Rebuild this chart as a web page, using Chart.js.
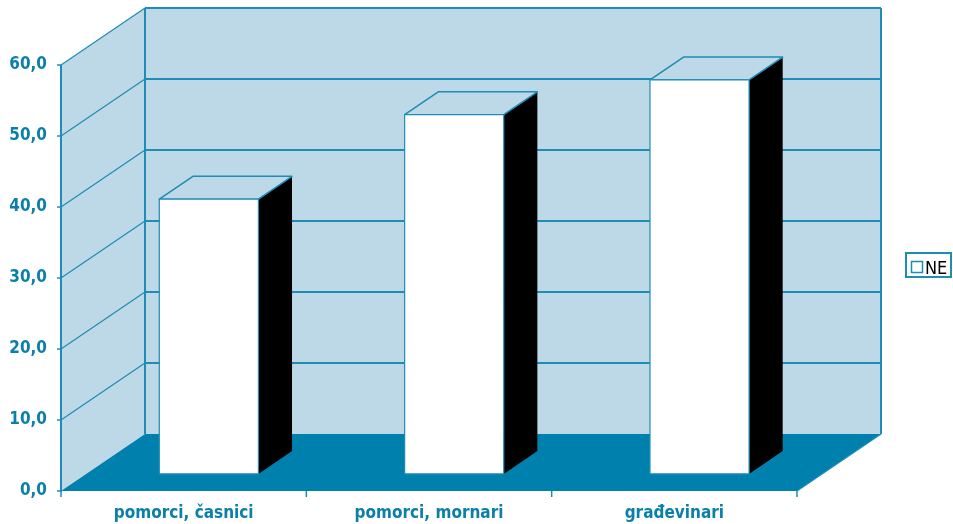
<!DOCTYPE html>
<html>
<head>
<meta charset="utf-8">
<script src="https://cdn.jsdelivr.net/npm/chart.js@4/dist/chart.umd.min.js"></script>
<style>
    html, body { margin: 0; padding: 0; background: #fff; }
    #wrap { width: 953px; height: 524px; }
</style>
</head>
<body>
<div id="wrap"><canvas id="chart" width="953" height="524"></canvas></div>
<script>
// データ
const categories = ['pomorci, časnici', 'pomorci, mornari', 'građevinari'];
const seriesName = 'NE';
const seriesValues = [38.7, 50.6, 55.5];
const yTicks = [0, 10, 20, 30, 40, 50, 60];

// 色
const WALL = '#bdd8e6';
const FLOOR = '#0080ad';
const LINE = '#1f8cb5';
const TEXT = '#0a7faa';
const FONT = "'Liberation Sans Narrow', 'DejaVu Sans Condensed', 'Arial Narrow', sans-serif";

// 奥行き (前面から背面まで)
const DX = 84, DY = -57;
// 棒の前面・背面の位置 (奥行きの割合)
const BAR_FRONT = 0.3, BAR_BACK = 0.7;

function poly(ctx, pts) {
    ctx.beginPath();
    ctx.moveTo(pts[0][0], pts[0][1]);
    for (let i = 1; i < pts.length; i++) ctx.lineTo(pts[i][0], pts[i][1]);
    ctx.closePath();
}

function line(ctx, x1, y1, x2, y2) {
    ctx.beginPath();
    ctx.moveTo(x1, y1);
    ctx.lineTo(x2, y2);
    ctx.stroke();
}

const box3d = {
    id: 'box3d',
    beforeDatasetsDraw(chart) {
        const { ctx, chartArea: a, scales: { x, y } } = chart;
        ctx.save();

        // 背面の壁
        ctx.fillStyle = WALL;
        ctx.fillRect(a.left + DX, a.top + DY, a.right - a.left, a.bottom - a.top);
        // 左の壁
        poly(ctx, [[a.left, a.top], [a.left + DX, a.top + DY], [a.left + DX, a.bottom + DY], [a.left, a.bottom]]);
        ctx.fill();
        // 床
        ctx.fillStyle = FLOOR;
        poly(ctx, [[a.left, a.bottom], [a.right, a.bottom], [a.right + DX, a.bottom + DY], [a.left + DX, a.bottom + DY]]);
        ctx.fill();

        // グリッド線
        ctx.strokeStyle = LINE;
        yTicks.forEach(v => {
            if (v === 0) return;
            const py = y.getPixelForValue(v);
            ctx.lineWidth = 1.2;
            line(ctx, a.left, py, a.left + DX, py + DY);
            ctx.lineWidth = 2;
            line(ctx, a.left + DX, py + DY, a.right + DX, py + DY);
            // 目盛り
            ctx.lineWidth = 1.5;
            line(ctx, a.left - 4, py, a.left, py);
        });
        ctx.lineWidth = 1.5;
        line(ctx, a.left - 4, a.bottom, a.left, a.bottom);

        // 壁の縁
        ctx.lineWidth = 2;
        line(ctx, a.left + DX, a.top + DY, a.left + DX, a.bottom + DY);
        line(ctx, a.right + DX, a.top + DY, a.right + DX, a.bottom + DY);
        line(ctx, a.left, a.top, a.left, a.bottom + 1);

        // 床の右端
        ctx.lineWidth = 1.2;
        line(ctx, a.right, a.bottom, a.right + DX, a.bottom + DY);

        // x軸の目盛り
        ctx.lineWidth = 1.5;
        for (let i = 0; i <= categories.length; i++) {
            const px = a.left + (a.right - a.left) * i / categories.length;
            line(ctx, px, a.bottom, px, a.bottom + 6);
        }
        ctx.restore();
    },
    afterDatasetsDraw(chart) {
        const { ctx } = chart;
        const meta = chart.getDatasetMeta(0);
        const fx = DX * BAR_FRONT, fy = DY * BAR_FRONT;
        const sx = DX * (BAR_BACK - BAR_FRONT), sy = DY * (BAR_BACK - BAR_FRONT);
        ctx.save();
        ctx.lineJoin = 'round';
        meta.data.forEach(el => {
            const { x, y, base, width } = el.getProps(['x', 'y', 'base', 'width'], true);
            const l = x - width / 2 + fx, r = x + width / 2 + fx;
            const t = y + fy, b = base + fy;
            // 側面
            ctx.fillStyle = '#000';
            poly(ctx, [[r, t], [r + sx, t + sy], [r + sx, b + sy], [r, b]]);
            ctx.fill();
            // 上面
            ctx.fillStyle = WALL;
            ctx.strokeStyle = LINE;
            ctx.lineWidth = 1.5;
            poly(ctx, [[l, t], [l + sx, t + sy], [r + sx, t + sy], [r, t]]);
            ctx.fill();
            ctx.stroke();
            // 前面
            ctx.fillStyle = '#fff';
            ctx.fillRect(l, t, r - l, b - t);
            ctx.lineWidth = 1.2;
            ctx.strokeRect(l, t, r - l, b - t);
        });
        ctx.restore();
    },
    afterDraw(chart) {
        // 凡例
        const { ctx } = chart;
        ctx.save();
        ctx.fillStyle = '#fff';
        ctx.strokeStyle = LINE;
        ctx.lineWidth = 2;
        ctx.fillRect(906, 253, 45, 24);
        ctx.strokeRect(906, 253, 45, 24);
        ctx.lineWidth = 1.5;
        ctx.strokeRect(911.5, 261.5, 11, 11);
        ctx.fillStyle = '#000';
        ctx.font = '18px ' + FONT;
        ctx.textBaseline = 'alphabetic';
        ctx.fillText(chart.data.datasets[0].label, 925, 274);
        ctx.restore();
    }
};

new Chart(document.getElementById('chart'), {
    type: 'bar',
    data: {
        labels: categories,
        datasets: [{
            label: seriesName,
            data: seriesValues,
            backgroundColor: 'rgba(0,0,0,0)',
            borderWidth: 0,
            categoryPercentage: 1,
            barPercentage: 0.404
        }]
    },
    options: {
        responsive: false,
        animation: false,
        layout: { padding: { left: 0, top: 65, right: 156, bottom: 0 } },
        plugins: {
            legend: { display: false },
            tooltip: { enabled: false }
        },
        scales: {
            x: {
                grid: { display: false, drawTicks: false },
                border: { display: false },
                ticks: {
                    color: TEXT,
                    padding: 12,
                    font: { family: FONT, size: 17, weight: 'bold' }
                },
                afterFit(scale) { scale.height = 33; }
            },
            y: {
                min: 0,
                max: 60,
                grid: { display: false, drawTicks: false },
                border: { display: false },
                afterBuildTicks(scale) { scale.ticks = yTicks.map(v => ({ value: v })); },
                ticks: {
                    color: TEXT,
                    padding: 14,
                    font: { family: FONT, size: 17, weight: 'bold' },
                    callback: v => v.toFixed(1).replace('.', ',')
                },
                afterFit(scale) { scale.width = 61; }
            }
        }
    },
    plugins: [box3d]
});
</script>
</body>
</html>
